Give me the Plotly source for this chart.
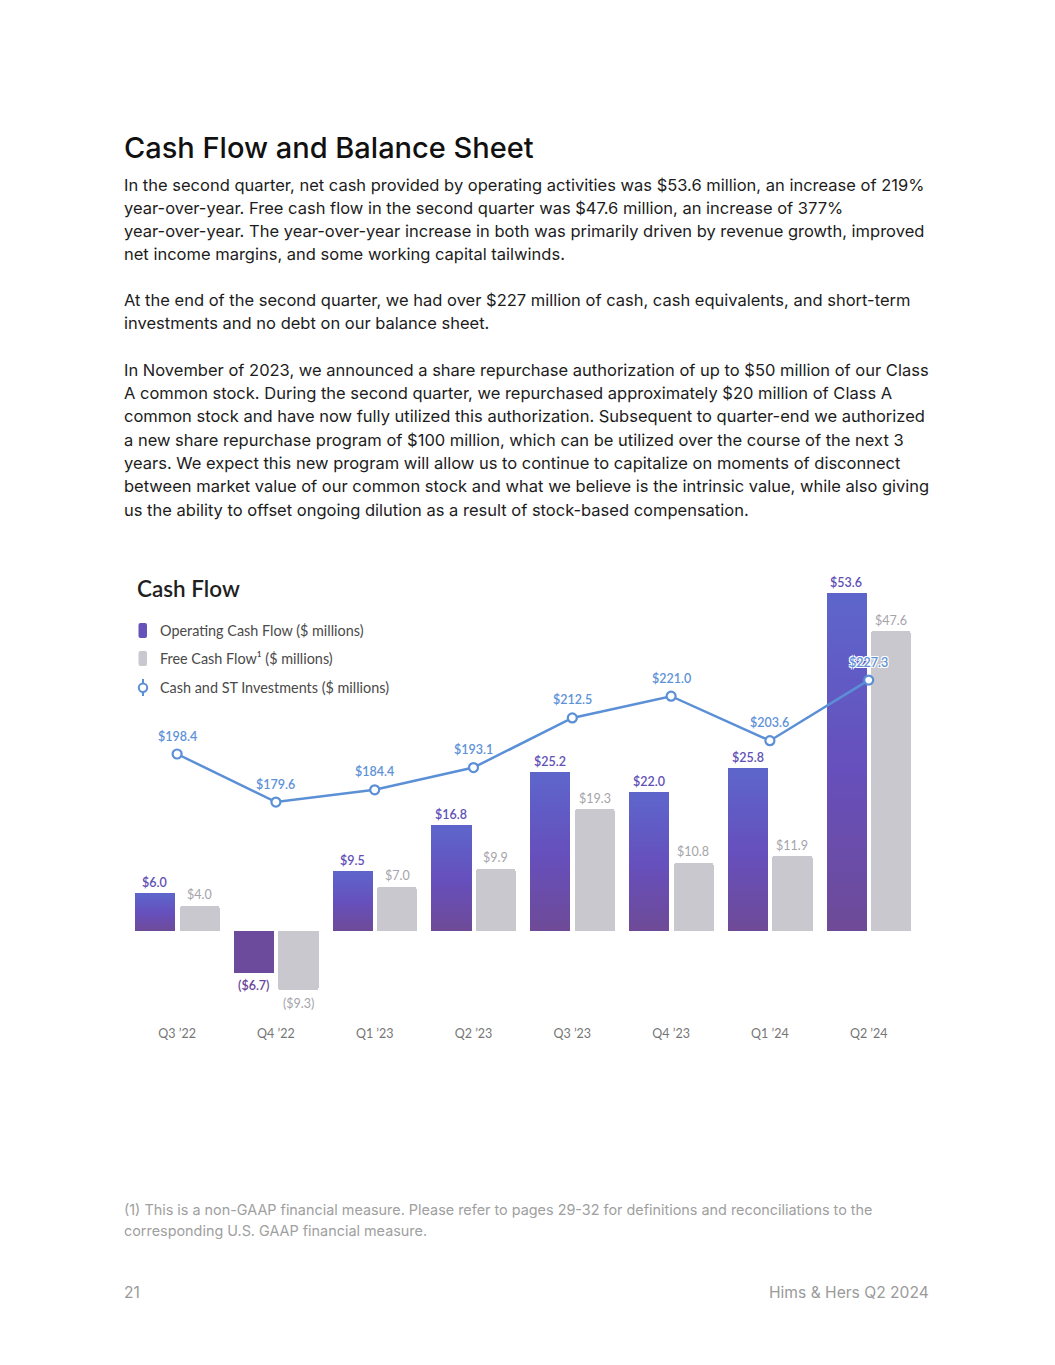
import plotly.graph_objects as go

# ---------------- data ----------------
quarters = ["Q3 ’22", "Q4 ’22", "Q1 ’23", "Q2 ’23", "Q3 ’23", "Q4 ’23", "Q1 ’24", "Q2 ’24"]
operating_cf = [6.0, -6.7, 9.5, 16.8, 25.2, 22.0, 25.8, 53.6]
free_cf = [4.0, -9.3, 7.0, 9.9, 19.3, 10.8, 11.9, 47.6]
cash_st = [198.4, 179.6, 184.4, 193.1, 212.5, 221.0, 203.6, 227.3]

series_names = ["Operating Cash Flow ($ millions)", "Free Cash Flow¹ ($ millions)",
                "Cash and ST Investments ($ millions)"]

# ---------------- geometry / style ----------------
W, H = 1055, 1365


def px(x):
    return x / W


def py(y):
    return 1 - y / H


X0_CENTER, X_STEP = 177.1, 98.8
PLOT_TOP, PLOT_BOTTOM = 560, 1018
ZERO_Y, BAR_SCALE = 931, 6.3
LINE_REF_V, LINE_REF_Y, LINE_SCALE = 202.49, 743.54, 2.5575

n = len(quarters)
idx = list(range(n))
x_left_px = X0_CENTER - 0.5 * X_STEP
x_right_px = X0_CENTER + (n - 0.5) * X_STEP

BAR_W = 40.3 / X_STEP
GAP = 4.3 / X_STEP
OFF_P = -GAP / 2 - BAR_W
OFF_G = GAP / 2

y_range = [-(PLOT_BOTTOM - ZERO_Y) / BAR_SCALE, (ZERO_Y - PLOT_TOP) / BAR_SCALE]
y2_range = [LINE_REF_V - (PLOT_BOTTOM - LINE_REF_Y) / LINE_SCALE,
            LINE_REF_V + (LINE_REF_Y - PLOT_TOP) / LINE_SCALE]

BLUE = "#5b8fd6"
BLUE_TXT = "#5e92d8"
PURPLE_TXT = "#5f50b6"
PURPLE_NEG_TXT = "#6a4699"
GRAY_BAR = "#c9c8ce"
GRAY_TXT = "#a4a3aa"
NEG_PURPLE = "#6d4b9c"
CHART_FONT = "Lato"
TEXT_FONT = "Inter"
LEFT = 123

grad_stops = [(0.0, (0x6e, 0x4a, 0x97)), (0.5, (0x66, 0x50, 0xbe)), (1.0, (0x5d, 0x66, 0xcb))]


def grad(t):
    for (t0, c0), (t1, c1) in zip(grad_stops[:-1], grad_stops[1:]):
        if t <= t1:
            f = (t - t0) / (t1 - t0)
            c = [round(a + (b - a) * f) for a, b in zip(c0, c1)]
            return "rgb({},{},{})".format(*c)
    return "rgb({},{},{})".format(*grad_stops[-1][1])


def fmt(v):
    return f"${v:.1f}" if v >= 0 else f"(${-v:.1f})"


fig = go.Figure()

# Operating cash flow bars, drawn as vertical gradient slices
N = 28
for k in range(N):
    t = (k + 0.5) / N
    colors = [grad(t) if v >= 0 else NEG_PURPLE for v in operating_cf]
    fig.add_trace(go.Bar(
        x=idx, y=[v / N for v in operating_cf], base=[v * k / N for v in operating_cf],
        width=BAR_W, offset=OFF_P, marker=dict(color=colors, line=dict(width=0)),
        showlegend=False, hoverinfo="skip", name=series_names[0]))

# Free cash flow bars
fig.add_trace(go.Bar(
    x=idx, y=free_cf, width=BAR_W, offset=OFF_G,
    marker=dict(color=GRAY_BAR, line=dict(width=0), cornerradius=3),
    showlegend=False, hoverinfo="skip", name=series_names[1]))

# Cash & ST investments line
fig.add_trace(go.Scatter(
    x=idx, y=cash_st, yaxis="y2", mode="lines+markers",
    line=dict(color=BLUE, width=2.5),
    marker=dict(size=9, color="white", line=dict(color=BLUE, width=2.2)),
    showlegend=False, hoverinfo="skip", name=series_names[2]))

annotations = []

# value labels
for i, v in enumerate(operating_cf):
    annotations.append(dict(
        x=i + OFF_P + BAR_W / 2, y=v, xref="x", yref="y", text=fmt(v), showarrow=False,
        yanchor="middle", xanchor="center", yshift=10.5 if v >= 0 else -12.5,
        font=dict(family=CHART_FONT, size=12.5, weight=600,
                  color=PURPLE_TXT if v >= 0 else PURPLE_NEG_TXT)))
for i, v in enumerate(free_cf):
    annotations.append(dict(
        x=i + OFF_G + BAR_W / 2, y=v, xref="x", yref="y", text=fmt(v), showarrow=False,
        yanchor="middle", xanchor="center", yshift=11 if v >= 0 else -14,
        font=dict(family=CHART_FONT, size=12.5, color=GRAY_TXT)))
for i, v in enumerate(cash_st):
    annotations.append(dict(
        x=i, y=v, xref="x", yref="y2", text=fmt(v), showarrow=False,
        yanchor="middle", xanchor="center", yshift=18,
        font=dict(family=CHART_FONT, size=12.5, weight=600, color=BLUE_TXT,
                  shadow="1px 1px 0 #fff, -1px -1px 0 #fff, 1px -1px 0 #fff, -1px 1px 0 #fff")))

# chart title and legend
annotations.append(dict(x=px(136), y=py(588), xref="paper", yref="paper", text="Cash Flow",
                        showarrow=False, xanchor="left", yanchor="middle", borderpad=0,
                        font=dict(family=CHART_FONT, size=22.5, weight=600, color="#1f1f1f")))
legend_y = [630, 658, 687]
for name, ly in zip(series_names, legend_y):
    annotations.append(dict(x=px(159), y=py(ly), xref="paper", yref="paper", text=name,
                            showarrow=False, xanchor="left", yanchor="middle", borderpad=0,
                            font=dict(family=CHART_FONT, size=14.4, color="#4a4a4a")))

shapes = []


def pill(x0, x1, y0, y1, color):
    r = 2
    path = (f"M {px(x0 + r)} {py(y0)} L {px(x1 - r)} {py(y0)} Q {px(x1)} {py(y0)} {px(x1)} {py(y0 + r)} "
            f"L {px(x1)} {py(y1 - r)} Q {px(x1)} {py(y1)} {px(x1 - r)} {py(y1)} "
            f"L {px(x0 + r)} {py(y1)} Q {px(x0)} {py(y1)} {px(x0)} {py(y1 - r)} "
            f"L {px(x0)} {py(y0 + r)} Q {px(x0)} {py(y0)} {px(x0 + r)} {py(y0)} Z")
    return dict(type="path", path=path, xref="paper", yref="paper", fillcolor=color,
                line=dict(width=0))


shapes.append(pill(138.5, 147, 623, 638, "#6553b9"))
shapes.append(pill(138.5, 147, 651, 666, "#c9c8ce"))
shapes.append(dict(type="line", xref="paper", yref="paper", x0=px(143), x1=px(143),
                   y0=py(679), y1=py(696), line=dict(color=BLUE, width=2)))
shapes.append(dict(type="circle", xref="paper", yref="paper", x0=px(138.8), x1=px(147.2),
                   y0=py(683.5), y1=py(691.9), fillcolor="white", line=dict(color=BLUE, width=2)))

# page text
annotations.append(dict(x=px(LEFT), y=py(147), xref="paper", yref="paper",
                        text="Cash Flow and Balance Sheet", showarrow=False,
                        xanchor="left", yanchor="middle", borderpad=0,
                        font=dict(family=TEXT_FONT, size=29, weight=500, color="#111111")))

body_lines = [
    (185, "In the second quarter, net cash provided by operating activities was $53.6 million, an increase of 219%"),
    (208, "year-over-year. Free cash flow in the second quarter was $47.6 million, an increase of 377%"),
    (231, "year-over-year. The year-over-year increase in both was primarily driven by revenue growth, improved"),
    (254, "net income margins, and some working capital tailwinds."),
    (300, "At the end of the second quarter, we had over $227 million of cash, cash equivalents, and short-term"),
    (323, "investments and no debt on our balance sheet."),
    (370, "In November of 2023, we announced a share repurchase authorization of up to $50 million of our Class"),
    (393, "A common stock. During the second quarter, we repurchased approximately $20 million of Class A"),
    (416, "common stock and have now fully utilized this authorization. Subsequent to quarter-end we authorized"),
    (440, "a new share repurchase program of $100 million, which can be utilized over the course of the next 3"),
    (463, "years. We expect this new program will allow us to continue to capitalize on moments of disconnect"),
    (486, "between market value of our common stock and what we believe is the intrinsic value, while also giving"),
    (510, "us the ability to offset ongoing dilution as a result of stock-based compensation."),
]
for ly, txt in body_lines:
    annotations.append(dict(x=px(LEFT), y=py(ly), xref="paper", yref="paper", text=txt,
                            showarrow=False, xanchor="left", yanchor="middle", borderpad=0,
                            font=dict(family=TEXT_FONT, size=16.5, color="#1c1c1c")))

foot_lines = [
    (1210, "(1) This is a non-GAAP financial measure. Please refer to pages 29-32 for definitions and reconciliations to the"),
    (1231, "corresponding U.S. GAAP financial measure."),
]
for ly, txt in foot_lines:
    annotations.append(dict(x=px(LEFT), y=py(ly), xref="paper", yref="paper", text=txt,
                            showarrow=False, xanchor="left", yanchor="middle", borderpad=0,
                            font=dict(family=TEXT_FONT, size=14.4, color="#a0a0a0")))

annotations.append(dict(x=px(LEFT), y=py(1292), xref="paper", yref="paper", text="21",
                        showarrow=False, xanchor="left", yanchor="middle", borderpad=0,
                        font=dict(family=TEXT_FONT, size=15.6, color="#9a9a9a")))
annotations.append(dict(x=px(930), y=py(1292), xref="paper", yref="paper", text="Hims & Hers Q2 2024",
                        showarrow=False, xanchor="right", yanchor="middle", borderpad=0,
                        font=dict(family=TEXT_FONT, size=15.6, color="#9a9a9a")))

fig.update_layout(
    width=W, height=H, margin=dict(l=0, r=0, t=0, b=0),
    paper_bgcolor="white", plot_bgcolor="white",
    barmode="overlay", bargap=0, bargroupgap=0,
    showlegend=False,
    xaxis=dict(domain=[px(x_left_px), px(x_right_px)], range=[-0.5, n - 0.5],
               tickvals=idx, ticktext=quarters, showgrid=False, zeroline=False,
               showline=False, ticks="", fixedrange=True, ticklabelstandoff=6,
               tickfont=dict(family=CHART_FONT, size=12.5, color="#767676")),
    yaxis=dict(domain=[py(PLOT_BOTTOM), py(PLOT_TOP)], range=y_range, visible=False,
               showgrid=False, zeroline=False),
    yaxis2=dict(overlaying="y", range=y2_range, visible=False, showgrid=False,
                zeroline=False, side="right"),
    annotations=annotations, shapes=shapes,
)

fig.write_html("out.html", config={"displayModeBar": False},
               post_script="document.body.style.margin='0';document.body.style.overflow='hidden';")
